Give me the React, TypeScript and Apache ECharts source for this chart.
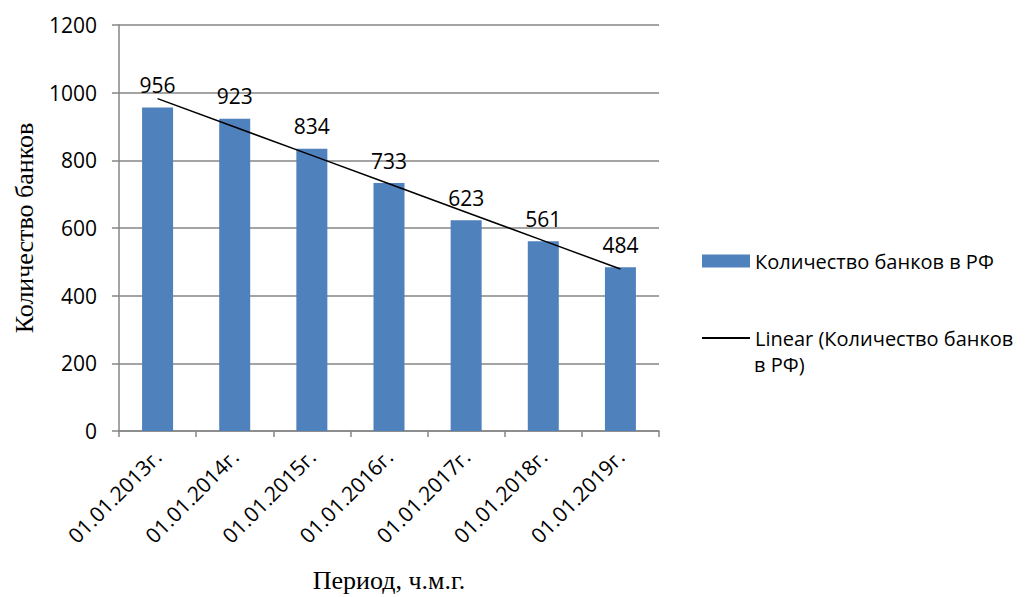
import React, { useEffect, useRef } from "react";
import * as echarts from "echarts";

const periods = [
  "01.01.2013г.",
  "01.01.2014г.",
  "01.01.2015г.",
  "01.01.2016г.",
  "01.01.2017г.",
  "01.01.2018г.",
  "01.01.2019г.",
];
const bankCounts = [956, 923, 834, 733, 623, 561, 484];
const yTicks = { min: 0, max: 1200, interval: 200 };

const barName = "Количество банков в РФ";
const trendName = "Linear (Количество банков в РФ)";

// Least-squares linear trend over the category index
function linearTrend(values: number[]): number[] {
  const n = values.length;
  const xs = values.map((_, i) => i + 1);
  const mx = xs.reduce((a, b) => a + b, 0) / n;
  const my = values.reduce((a, b) => a + b, 0) / n;
  let num = 0;
  let den = 0;
  for (let i = 0; i < n; i++) {
    num += (xs[i] - mx) * (values[i] - my);
    den += (xs[i] - mx) * (xs[i] - mx);
  }
  const slope = num / den;
  const intercept = my - slope * mx;
  return xs.map((x) => +(intercept + slope * x).toFixed(2));
}

const sans = "'Open Sans', 'Noto Sans', sans-serif";
const serif = "'Liberation Serif', 'DejaVu Serif', serif";

export default function App() {
  const ref = useRef<HTMLDivElement>(null);

  useEffect(() => {
    if (!ref.current) return;
    const chart = echarts.init(ref.current, undefined, { renderer: "svg" });
    const trend = linearTrend(bankCounts);
    chart.setOption({
      animation: false,
      backgroundColor: "#ffffff",
      grid: {
        left: 119,
        top: 25,
        width: 540,
        height: 406,
        containLabel: false,
        outerBoundsMode: "none",
      },
      legend: [
        {
          left: 697,
          top: 246,
          itemWidth: 48,
          itemHeight: 13,
          data: [{ name: barName, icon: "rect" }],
          textStyle: { fontFamily: sans, fontSize: 20, color: "#000" },
        },
        {
          left: 697,
          top: 323,
          itemWidth: 48,
          itemHeight: 2,
          data: [{ name: trendName, icon: "rect", itemStyle: { color: "#000" } }],
          formatter: () => "Linear (Количество банков",
          textStyle: { fontFamily: sans, fontSize: 20, color: "#000" },
        },
      ],
      graphic: [
        {
          type: "text",
          left: 754,
          top: 354,
          style: { text: "в РФ)", fontFamily: sans, fontSize: 20, fill: "#000" },
        },
      ],
      xAxis: {
        type: "category",
        data: periods,
        name: "Период, ч.м.г.",
        nameLocation: "middle",
        nameGap: 136,
        nameTextStyle: { fontFamily: serif, fontSize: 26, color: "#000" },
        axisLine: { lineStyle: { color: "#868686", width: 1.5 } },
        axisTick: { show: true, alignWithLabel: false, length: 6, lineStyle: { color: "#868686", width: 1.5 } },
        axisLabel: {
          rotate: 45,
          fontFamily: sans,
          fontSize: 21,
          color: "#000",
          margin: 22,
        },
      },
      yAxis: {
        type: "value",
        min: yTicks.min,
        max: yTicks.max,
        interval: yTicks.interval,
        name: "Количество банков",
        nameLocation: "middle",
        nameGap: 82,
        nameRotate: 90,
        nameTextStyle: { fontFamily: serif, fontSize: 26, color: "#000" },
        axisLine: { show: true, lineStyle: { color: "#868686", width: 1.5 } },
        axisTick: { show: true, length: 7, lineStyle: { color: "#868686", width: 1.5 } },
        splitLine: { lineStyle: { color: "#868686", width: 1.5 } },
        axisLabel: {
          fontFamily: sans,
          fontSize: 21,
          color: "#000",
          margin: 22,
          formatter: (v: number) => String(v),
        },
      },
      series: [
        {
          name: barName,
          type: "bar",
          data: bankCounts,
          barWidth: 31,
          itemStyle: { color: "#4F81BD" },
          label: {
            show: true,
            position: "top",
            distance: 12,
            fontFamily: sans,
            fontSize: 21,
            color: "#000",
          },
        },
        {
          name: trendName,
          type: "line",
          data: trend,
          symbol: "none",
          lineStyle: { color: "#000", width: 1.5 },
          itemStyle: { color: "#000" },
          z: 3,
        },
      ],
    });
    return () => chart.dispose();
  }, []);

  return (
    <div
      ref={ref}
      style={{ position: "absolute", left: 0, top: 0, width: 1032, height: 597 }}
    />
  );
}
